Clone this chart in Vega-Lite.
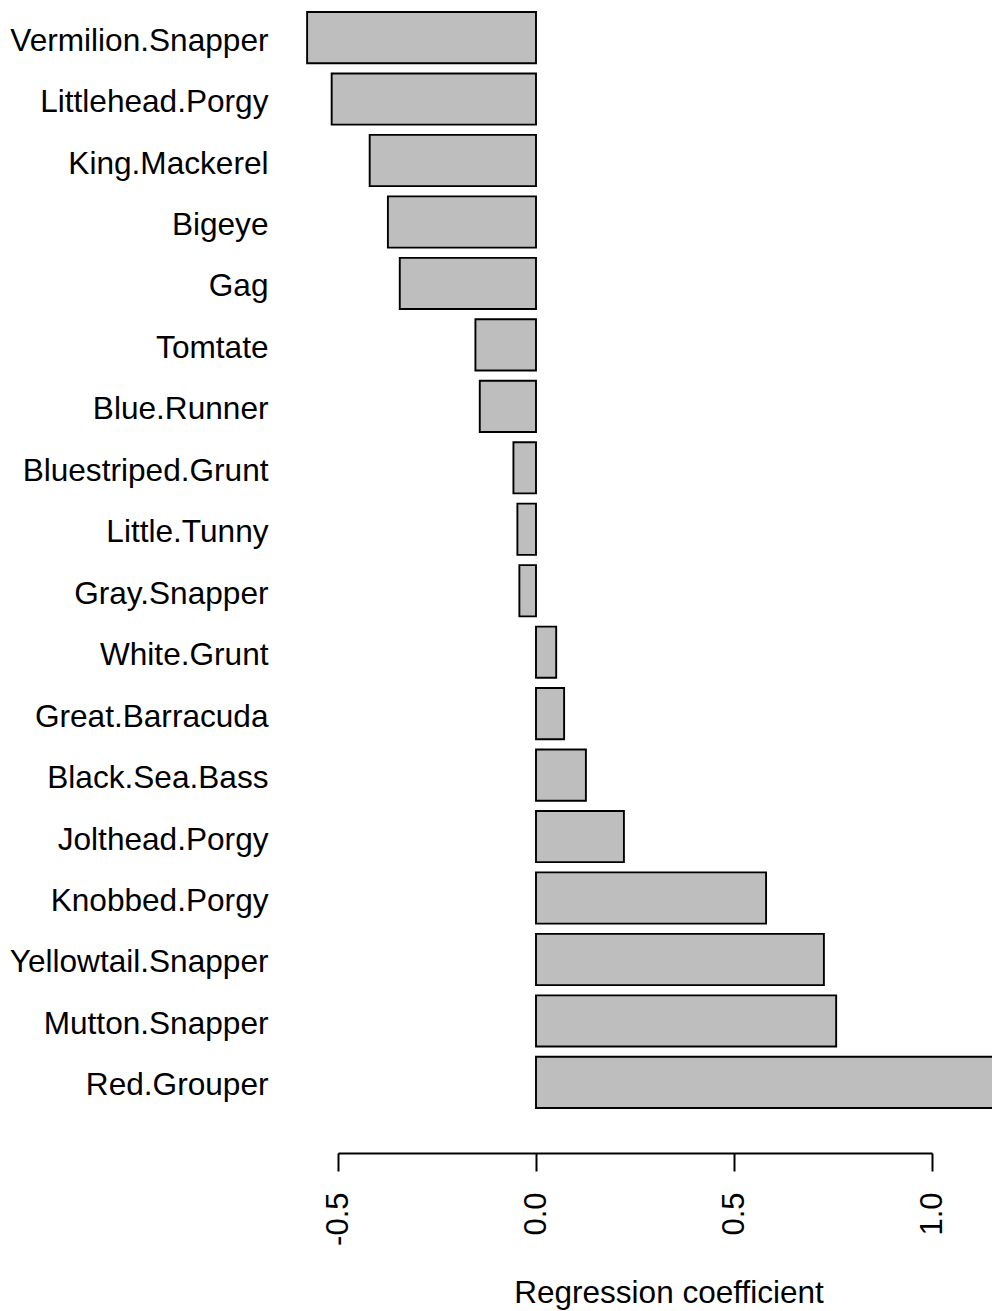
{
  "$schema": "https://vega.github.io/schema/vega-lite/v6.json",
  "autosize": {"type": "none"},
  "padding": {"left": 338, "top": 12, "right": 60, "bottom": 203},
  "width": 594,
  "height": 1096,
  "background": "white",
  "config": {
    "font": "Liberation Sans",
    "view": {"stroke": null}
  },
  "data": {
    "values": [
      {"species": "Vermilion.Snapper", "coef": -0.578},
      {"species": "Littlehead.Porgy", "coef": -0.516},
      {"species": "King.Mackerel", "coef": -0.420},
      {"species": "Bigeye", "coef": -0.374},
      {"species": "Gag", "coef": -0.344},
      {"species": "Tomtate", "coef": -0.153},
      {"species": "Blue.Runner", "coef": -0.142},
      {"species": "Bluestriped.Grunt", "coef": -0.057},
      {"species": "Little.Tunny", "coef": -0.047},
      {"species": "Gray.Snapper", "coef": -0.042},
      {"species": "White.Grunt", "coef": 0.051},
      {"species": "Great.Barracuda", "coef": 0.071},
      {"species": "Black.Sea.Bass", "coef": 0.126},
      {"species": "Jolthead.Porgy", "coef": 0.222},
      {"species": "Knobbed.Porgy", "coef": 0.581},
      {"species": "Yellowtail.Snapper", "coef": 0.727},
      {"species": "Mutton.Snapper", "coef": 0.758},
      {"species": "Red.Grouper", "coef": 1.25}
    ]
  },
  "mark": {"type": "bar", "fill": "#bebebe", "stroke": "#000000", "strokeWidth": 1.9},
  "encoding": {
    "y": {
      "field": "species",
      "type": "nominal",
      "sort": null,
      "scale": {"paddingInner": 0.1667, "paddingOuter": 0},
      "axis": {
        "title": null,
        "domain": false,
        "ticks": false,
        "labelPadding": 70,
        "labelAlign": "right",
        "labelBaseline": "alphabetic",
        "labelOffset": 13,
        "labelFontSize": 31.6,
        "labelColor": "#000000",
        "labelLimit": 0
      }
    },
    "x": {
      "field": "coef",
      "type": "quantitative",
      "scale": {"domain": [-0.5, 1.0], "nice": false, "zero": false, "clamp": false},
      "axis": {
        "title": "Regression coefficient",
        "values": [-0.5, 0, 0.5, 1.0],
        "grid": false,
        "offset": 45,
        "domainColor": "#000000",
        "domainWidth": 2,
        "tickColor": "#000000",
        "tickWidth": 2,
        "tickSize": 18,
        "labelAngle": 270,
        "labelAlign": "right",
        "labelBaseline": "middle",
        "labelPadding": 21,
        "labelFontSize": 31,
        "labelColor": "#000000",
        "labelFlush": false,
        "labelOverlap": false,
        "labelBound": false,
        "labelExpr": "replace(format(datum.value, '.1f'), '\u2212', '-')",
        "titleFontSize": 31.5,
        "titleFontWeight": "normal",
        "titleColor": "#000000",
        "titleX": 330.5,
        "titleY": 149,
        "titleAlign": "center",
        "titleBaseline": "alphabetic"
      }
    },
    "x2": {"datum": 0}
  }
}
